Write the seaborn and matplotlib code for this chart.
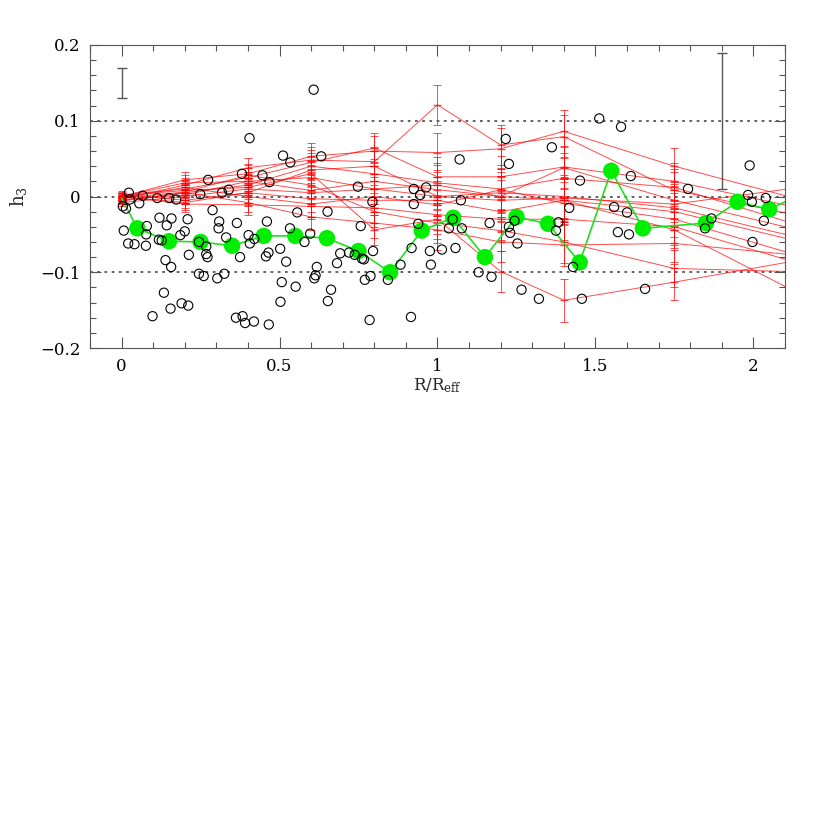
import matplotlib
matplotlib.use("Agg")
import matplotlib.pyplot as plt
import seaborn as sns
import numpy as np
import pandas as pd
from matplotlib.ticker import MultipleLocator

sns.set_style("ticks")
plt.rcParams['font.family'] = ['DejaVu Serif']
plt.rcParams['mathtext.fontset'] = 'dejavuserif'
plt.rcParams['axes.edgecolor'] = '#555555'
plt.rcParams['xtick.color'] = '#555555'
plt.rcParams['ytick.color'] = '#555555'
plt.rcParams['xtick.labelcolor'] = 'black'
plt.rcParams['ytick.labelcolor'] = 'black'

# individual long-slit points (open circles)
circ_r = [0.023, 0.026, 0.067, 0.056, 0.113, 0.151, 0.173, 0.004, 0.014, 0.12, 0.158, 0.143, 0.08,
          0.007, 0.078, 0.2, 0.186, 0.209, 0.118, 0.127, 0.021, 0.041, 0.077, 0.213, 0.139, 0.157,
          0.245, 0.26, 0.134, 0.155, 0.19, 0.211, 0.098, 0.274, 0.249, 0.288, 0.309, 0.307, 0.331,
          0.268, 0.268, 0.272, 0.303, 0.325, 0.318, 0.339, 0.245,
          0.608, 0.405, 0.511, 0.534, 0.632, 0.381, 0.446, 0.468, 0.748, 0.556, 0.652, 0.757, 0.365,
          0.46, 0.533, 0.597, 0.402, 0.406, 0.42, 0.579, 0.375, 0.465, 0.457, 0.502, 0.521, 0.692,
          0.72, 0.738, 0.761, 0.682, 0.618, 0.614, 0.61, 0.507, 0.551, 0.663, 0.653, 0.503, 0.362,
          0.383, 0.391, 0.419, 0.466,
          1.07, 0.925, 0.964, 0.945, 0.925, 1.074, 0.794, 0.939, 1.036, 1.077, 1.165, 1.048, 0.796,
          0.767, 0.918, 0.976, 1.014, 1.057, 0.883, 0.979, 0.77, 0.788, 0.843, 1.13, 1.171, 0.785,
          0.916,
          1.512, 1.581, 1.216, 1.362, 1.226, 1.451, 1.612, 1.417, 1.559, 1.6, 1.244, 1.226, 1.23,
          1.383, 1.375, 1.253, 1.571, 1.606, 1.429, 1.266, 1.321, 1.457,
          1.988, 1.793, 1.983, 1.995, 2.039, 1.867, 1.847, 2.033, 1.997, 1.657]
circ_h = [0.005, -0.004, 0.001, -0.009, -0.002, -0.002, -0.004, -0.013, -0.016, -0.028, -0.029, -0.038, -0.039,
          -0.045, -0.05, -0.046, -0.051, -0.03, -0.057, -0.058, -0.062, -0.063, -0.065, -0.077, -0.084, -0.093,
          -0.102, -0.105, -0.127, -0.148, -0.141, -0.144, -0.158, 0.022, 0.003, -0.018, -0.033, -0.042, -0.054,
          -0.066, -0.076, -0.08, -0.108, -0.102, 0.005, 0.009, -0.06,
          0.141, 0.077, 0.054, 0.045, 0.053, 0.030, 0.028, 0.019, 0.013, -0.021, -0.020, -0.039, -0.035,
          -0.033, -0.042, -0.049, -0.051, -0.062, -0.056, -0.06, -0.08, -0.074, -0.079, -0.069, -0.086, -0.075,
          -0.074, -0.077, -0.082, -0.088, -0.093, -0.104, -0.108, -0.113, -0.119, -0.123, -0.138, -0.139, -0.16,
          -0.158, -0.167, -0.165, -0.169,
          0.049, 0.01, 0.012, 0.002, -0.010, -0.005, -0.007, -0.036, -0.042, -0.042, -0.035, -0.030, -0.072,
          -0.083, -0.068, -0.072, -0.07, -0.068, -0.09, -0.09, -0.11, -0.105, -0.11, -0.10, -0.106, -0.163,
          -0.159,
          0.103, 0.092, 0.076, 0.065, 0.043, 0.021, 0.027, -0.015, -0.014, -0.021, -0.032, -0.040, -0.048,
          -0.034, -0.045, -0.062, -0.047, -0.05, -0.093, -0.123, -0.135, -0.135,
          0.041, 0.01, 0.002, -0.007, -0.002, -0.029, -0.042, -0.032, -0.06, -0.122]

# binned mean (green)
mean_r = [0.0, 0.05, 0.15, 0.25, 0.35, 0.45, 0.55, 0.65, 0.75, 0.85, 0.95, 1.05, 1.15, 1.25,
          1.35, 1.45, 1.55, 1.65, 1.85, 1.95, 2.05, 2.15]
mean_h = [-0.002, -0.042, -0.059, -0.060, -0.065, -0.052, -0.052, -0.055, -0.072, -0.100, -0.045,
          -0.028, -0.080, -0.027, -0.036, -0.087, 0.034, -0.042, -0.035, -0.007, -0.017, 0.003]

# individual galaxy profiles (red)
prof_r = [0.0, 0.2, 0.4, 0.6, 0.8, 1.0, 1.2, 1.4, 1.75, 2.2]
prof_err = [0.004, 0.010, 0.013, 0.017, 0.020, 0.026, 0.027, 0.028, 0.024, 0.030]
profiles = [
    [0.000, 0.022, 0.030, 0.053, 0.060, 0.058, 0.063, 0.086, 0.040, -0.010],
    [-0.003, 0.015, 0.038, 0.048, 0.046, 0.121, 0.068, 0.079, 0.008, -0.030],
    [0.002, 0.010, 0.025, 0.045, 0.064, 0.026, 0.026, 0.039, 0.020, -0.020],
    [-0.005, 0.005, 0.015, 0.040, 0.030, 0.018, 0.010, 0.024, 0.012, -0.045],
    [0.000, 0.018, 0.020, 0.008, 0.020, 0.009, 0.000, 0.038, -0.005, -0.050],
    [-0.008, 0.000, 0.010, 0.005, 0.010, 0.000, 0.005, 0.000, -0.015, -0.060],
    [0.003, -0.005, 0.005, -0.003, -0.005, -0.005, -0.020, -0.005, -0.020, -0.065],
    [-0.002, 0.012, 0.000, -0.010, 0.000, -0.011, 0.009, -0.009, -0.030, -0.085],
    [0.000, -0.010, -0.011, -0.013, -0.015, -0.024, -0.030, -0.030, -0.040, -0.095],
    [-0.006, 0.005, -0.008, -0.027, -0.035, -0.044, -0.060, -0.064, -0.062, -0.080],
    [0.001, 0.008, 0.012, 0.030, -0.044, -0.030, -0.099, -0.137, -0.113, -0.080],
    [-0.004, 0.002, 0.020, 0.025, 0.010, 0.015, 0.000, -0.005, -0.044, -0.140],
    [0.000, -0.008, 0.005, 0.035, 0.040, 0.000, -0.005, -0.002, -0.010, 0.015],
    [-0.002, 0.006, 0.028, 0.015, -0.020, -0.035, -0.045, -0.060, -0.095, -0.100],
]

# typical error bars (black)
typ_r = [0.0, 1.9]
typ_h = [0.15, 0.10]
typ_err = [0.02, 0.09]

fig = plt.figure(figsize=(8.3, 8.3), dpi=100)
ax = fig.add_axes([0.1084, 0.5807, 0.8374, 0.3651])

for yy in [0.1, 0.0, -0.1]:
    ax.axhline(yy, color='#555555', lw=1.3, ls=(0, (1.5, 2.5)), zorder=1)

for prof in profiles:
    ax.errorbar(prof_r, prof, yerr=prof_err, color='red', lw=0.7, elinewidth=0.7,
                capsize=3, capthick=0.7, marker='_', ms=6, alpha=0.7, zorder=2)

ax.errorbar(typ_r, typ_h, yerr=typ_err, fmt='none', ecolor='#555555', elinewidth=1,
            capsize=3.5, capthick=1, zorder=2)

mean_df = pd.DataFrame({'r': mean_r, 'h': mean_h})
sns.lineplot(data=mean_df, x='r', y='h', sort=False, color='#22dd22', lw=1.2, ax=ax, zorder=3)
sns.scatterplot(data=mean_df.iloc[1:-1], x='r', y='h', color='#00ee00', s=140,
                edgecolor='none', ax=ax, zorder=3)

circ_df = pd.DataFrame({'r': circ_r, 'h': circ_h})
sns.scatterplot(data=circ_df, x='r', y='h', facecolor='none', edgecolor='black', s=44,
                linewidth=0.8, ax=ax, zorder=4)

ax.set_xlim(-0.1, 2.1)
ax.set_ylim(-0.2, 0.2)
ax.set_xticks([0, 0.5, 1, 1.5, 2])
ax.set_xticklabels(['0', '0.5', '1', '1.5', '2'])
ax.set_yticks([-0.2, -0.1, 0, 0.1, 0.2])
ax.set_yticklabels(['\u22120.2', '\u22120.1', '0', '0.1', '0.2'])
ax.xaxis.set_minor_locator(MultipleLocator(0.1))
ax.yaxis.set_minor_locator(MultipleLocator(0.02))
ax.tick_params(which='both', direction='in', top=True, right=True, labelsize=12, width=0.8)
ax.tick_params(which='major', length=8, pad=7)
ax.tick_params(which='minor', length=4)
for sp in ax.spines.values():
    sp.set_linewidth(0.8)

ax.set_xlabel(r'$\mathrm{R/R_{eff}}$', fontsize=12, labelpad=1)
ax.set_ylabel(r'$\mathrm{h_3}$', fontsize=13, labelpad=8)

plt.savefig('out.png', dpi=100)
